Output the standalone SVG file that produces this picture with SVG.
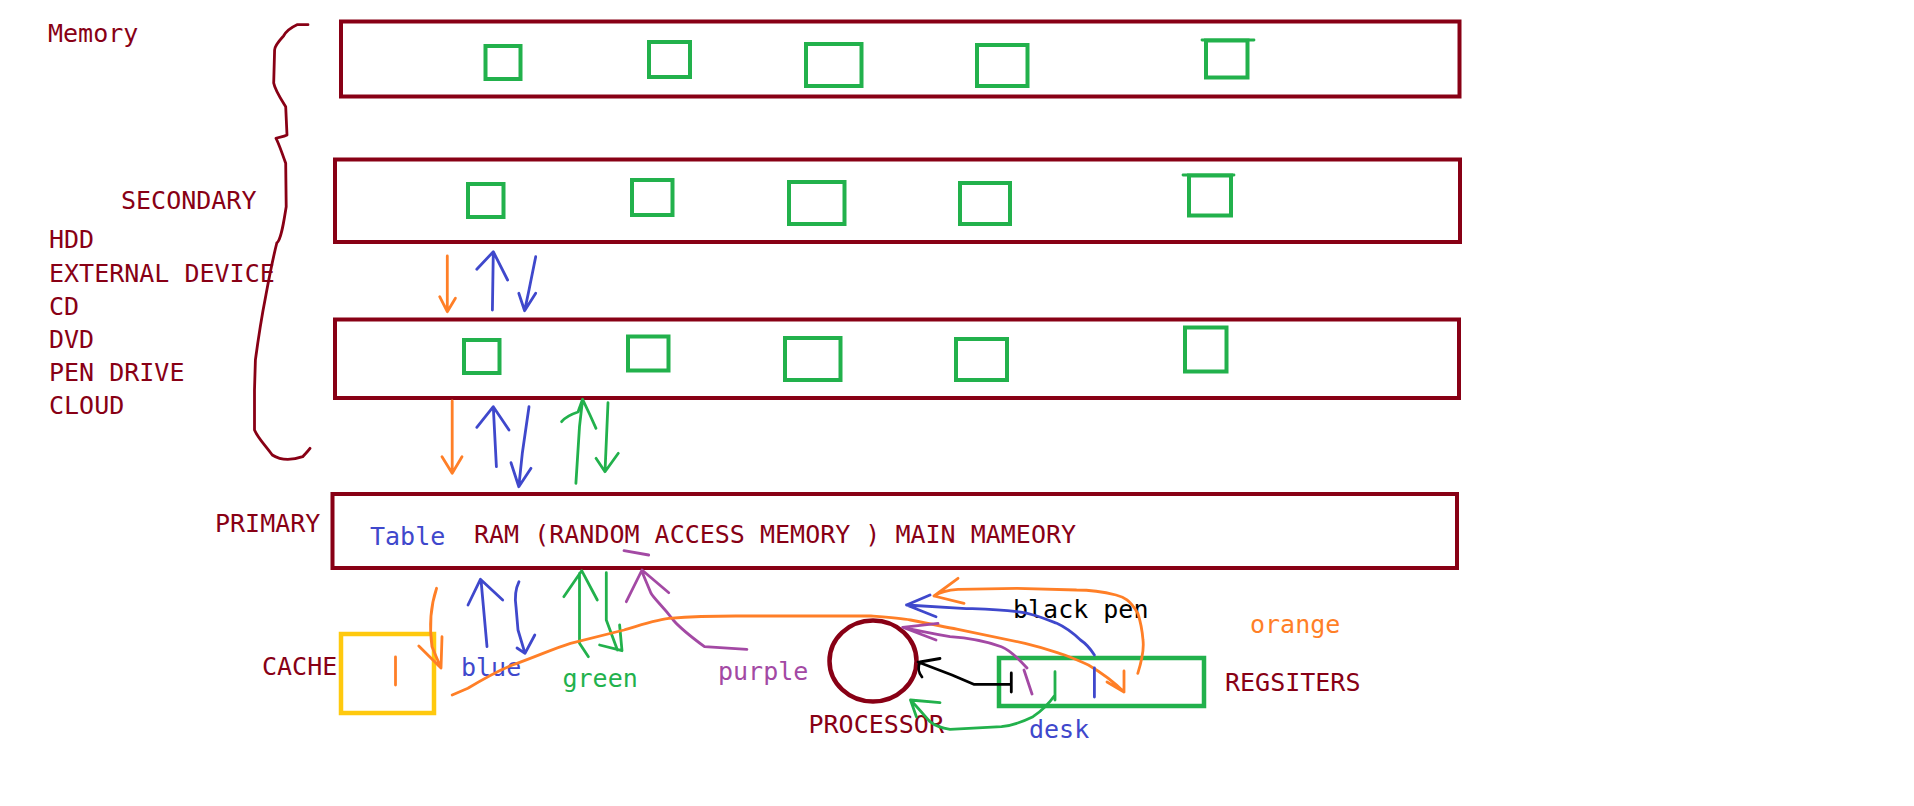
<svg xmlns="http://www.w3.org/2000/svg" width="1914" height="806" viewBox="0 0 1914 806">
<style>
text{font-family:"DejaVu Sans Mono","Liberation Mono",monospace;font-size:25px}
.dr{fill:#880015}.bl{fill:#3f48cc}.gr{fill:#22b14c}.pu{fill:#a349a4}.or{fill:#ff7f27}.bk{fill:#000}
.box{fill:none;stroke:#880015;stroke-width:4}
.sq{fill:none;stroke:#22b14c;stroke-width:4}
.ln{fill:none;stroke-width:2.8;stroke-linecap:round;stroke-linejoin:round}
.o{stroke:#ff7f27}.b{stroke:#3f48cc}.g{stroke:#22b14c}.p{stroke:#a349a4}.k{stroke:#000}.r{stroke:#880015}
</style>
<rect width="1914" height="806" fill="#fff"/>
<g id="brace">
<path class="ln r" stroke-width="2.5" d="M308,24.7 L297,24.7 C290,28 285,33 283.5,36 C278,42 274.6,46.7 274.6,50 L273.7,83 C275,90 279,96 285.7,106.7 L287,135 C283,137 279,137 276,138.3 C278,142 280.4,148 285.7,163.3 L286.2,206.7 C284,220 281.3,240 276.8,243 C272,262 270,273 265.6,296.7 C262,315 259,333 255.4,360 L254.5,390 L254.5,430 C258,438 263.4,443 272.3,455 C280,460 290,461 302.7,456.7 C306,453 308,451 310,448.3"/>
</g>
<g id="memory-label"><text class="dr" x="48" y="42">Memory</text></g>
<g id="memory">
<rect class="box" x="341" y="21.5" width="1118.5" height="75"/>
<rect class="sq" x="485.5" y="46" width="35" height="33"/>
<rect class="sq" x="649" y="42" width="41" height="35"/>
<rect class="sq" x="806" y="44" width="55.5" height="42"/>
<rect class="sq" x="977" y="45" width="50.5" height="41"/>
<rect class="sq" x="1206" y="40.5" width="41.5" height="37"/>
<path class="ln g" stroke-width="4" d="M1202,40 L1254,40"/>
</g>
<g id="secondary-label">
<text class="dr" x="121" y="209">SECONDARY</text>
<text class="dr" x="49" y="248">HDD</text>
<text class="dr" x="49" y="281.5">EXTERNAL DEVICE</text>
<text class="dr" x="49" y="314.5">CD</text>
<text class="dr" x="49" y="347.5">DVD</text>
<text class="dr" x="49" y="380.5">PEN DRIVE</text>
<text class="dr" x="49" y="413.5">CLOUD</text>
</g>
<g id="secondary">
<rect class="box" x="335" y="159.5" width="1125" height="82.5"/>
<rect class="sq" x="468" y="184" width="35.5" height="33"/>
<rect class="sq" x="632" y="180" width="40.5" height="35"/>
<rect class="sq" x="789" y="182" width="55.5" height="42"/>
<rect class="sq" x="960" y="183" width="50" height="41"/>
<rect class="sq" x="1189" y="175.5" width="42" height="40"/>
<path class="ln g" stroke-width="4" d="M1183,175 L1234,175"/>
</g>
<g id="level3">
<rect class="box" x="335" y="319.5" width="1124" height="78.5"/>
<rect class="sq" x="464" y="340" width="35.5" height="33"/>
<rect class="sq" x="628" y="336.5" width="40.5" height="34"/>
<rect class="sq" x="785" y="338" width="55.5" height="42"/>
<rect class="sq" x="956" y="339" width="51" height="41"/>
<rect class="sq" x="1185" y="327.5" width="41.5" height="44"/>
</g>
<g id="primary">
<text class="dr" x="215" y="531.5">PRIMARY</text>
<rect class="box" x="332.5" y="494" width="1124.5" height="74"/>
<text class="bl" x="370" y="545">Table</text>
<text class="dr" x="474" y="542.5">RAM (RANDOM ACCESS MEMORY ) MAIN MAMEORY</text>
</g>
<g id="cache">
<text class="dr" x="262" y="675">CACHE</text>
<rect x="341" y="634" width="93" height="79" fill="none" stroke="#ffc90e" stroke-width="4.5"/>
<path class="ln o" stroke-width="6" d="M395.5,657 L395.5,685"/>
</g>
<g id="processor">
<ellipse cx="873" cy="661" rx="43.5" ry="40.5" fill="none" stroke="#880015" stroke-width="4.5"/>
<text class="dr" x="808.5" y="733">PROCESSOR</text>
</g>
<g id="registers">
<rect x="999" y="658" width="205" height="48" fill="none" stroke="#22b14c" stroke-width="4.5"/>
<text class="dr" x="1225" y="690.5">REGSITERS</text>
</g>
<g id="labels">
<text class="bl" x="461" y="676">blue</text>
<text class="gr" x="562.5" y="686.5">green</text>
<text class="pu" x="718" y="680">purple</text>
<text class="bk" x="1013" y="618">black pen</text>
<text class="or" x="1250" y="633">orange</text>
<text class="bl" x="1029" y="738">desk</text>
</g>
<g id="connectors">
<!-- secondary to level3 -->
<path class="ln o" d="M447.3,256 L447.3,311.7 M439.7,296.7 L447.3,311.7 L455.4,298.3"/>
<path class="ln b" d="M492.4,310 L493.3,252 M476.8,269.3 L493.3,251.7 L507.6,280"/>
<path class="ln b" d="M535.7,256.7 L529,290 L524.6,310.7 M518.8,293.3 L524.6,310.7 L535.7,293.3"/>
<!-- level3 to primary -->
<path class="ln o" d="M452.2,401 L452.2,473.3 M442,456.7 L452.2,473.3 L462,456.7"/>
<path class="ln b" d="M496.4,466.7 L493.3,407 M476.8,427.3 L493.3,406.7 L509,430"/>
<path class="ln b" d="M529,406.7 L522.3,453.3 L518.8,486.7 M511,462.7 L518.8,486.7 L531,468.3"/>
<path class="ln g" d="M575.9,483.3 L579.5,426.7 L582.6,399.3 M561.6,421.7 C566,416 572,414 578,412 L582.6,399.3 L590,415 L596,428.3"/>
<path class="ln g" d="M608,402.7 L605,471.7 M596,458.3 L605,471.7 L618.3,453.3"/>
<!-- primary to cache/processor -->
<path class="ln o" d="M436.6,588.3 C431,605 429,625 432,646.7 L441,668 M418.8,646 L441,668 L442,636.7"/>
<path class="ln b" d="M487,646.7 L481,580 M468,605 L480.4,579.3 L502.7,600"/>
<path class="ln b" d="M519,581.7 C515,590 515,600 516,606.7 L518,630 L525,653.3 M517,648 L525,653.3 L534.8,635"/>
<path class="ln g" d="M588.4,656.7 L579.5,643.3 L579.5,573.3 M563.8,596.7 L581.7,570.7 L597.3,600"/>
<path class="ln g" d="M606.3,572.7 L606.3,620 L617.4,650 M599.6,645 L622,650.7 L619.6,625"/>
<path class="ln p" d="M746.9,649.3 L704.5,646.7 C690,636 680,628 673.2,620 C662,605 655,600 651,593.3 L642,571.7 M626.3,601.7 L642,570 L668.8,592.7"/>
<path class="ln p" d="M624,550.7 L648.7,555"/>
<!-- long orange from cache to registers -->
<path class="ln o" d="M452.2,695 L467.9,688.3 C485,678 500,670 512.5,665 C540,655 555,648 570.5,643.3 L624,630 C640,625 655,620 668.8,618.3 C700,616 720,616 735.7,616 L871,616 C885,617 900,618 910.5,620 C930,624 945,627 958,629.3 L1025,643.3 C1045,648 1055,652 1064.6,655 C1075,659 1082,662 1088.4,665 C1102,673 1112,680 1124,692 M1124,671 L1124,692 L1107,682"/>
<!-- orange arc from registers -->
<path class="ln o" d="M1137.8,673.3 C1142,660 1144,648 1143,640 C1142,628 1140,620 1137.8,613.3 C1130,600 1124,597 1116,595 C1100,591 1090,590 1076.6,590 L1017,588.3 L958,589.3 C948,590 940,592 934,596 M958,578.3 L934,596 L964,603.3"/>
<!-- blue from registers -->
<path class="ln b" d="M1094.4,697 L1094.4,668 M1094.4,655 C1090,648 1085,643 1080.5,640 C1072,632 1065,627 1056.8,623.3 C1040,617 1030,613 1017,611.7 C995,609 980,609 962,608.3 L906.5,605 M930,595 L906.5,605 L936,616.7"/>
<!-- purple from registers -->
<path class="ln p" d="M1024,670 L1032,694 M1027,668 C1018,658 1010,650 1001.4,646.7 C985,641 970,638 950,636.7 C930,633 915,630 902.6,627.3 M938,623.3 L902.6,627.3 L936,640"/>
<!-- green from registers -->
<path class="ln g" d="M1055,671.7 L1055,700 M1055,695 C1048,705 1040,712 1033,716.7 C1020,723 1010,726 1001.4,726.7 L950,729.3 C940,728 934,725 930,721.7 C924,715 919,709 910.5,700 M940,702.7 L910.5,700 L916.4,716.7"/>
<!-- black pen -->
<path class="ln k" stroke-width="2.5" d="M1011.3,673 L1011.3,692 M1011.3,684.3 L973.7,684.3 L952,675 L918,662 M940,658.5 L920,662 C918,666 918,672 922,677"/>
</g>
</svg>
